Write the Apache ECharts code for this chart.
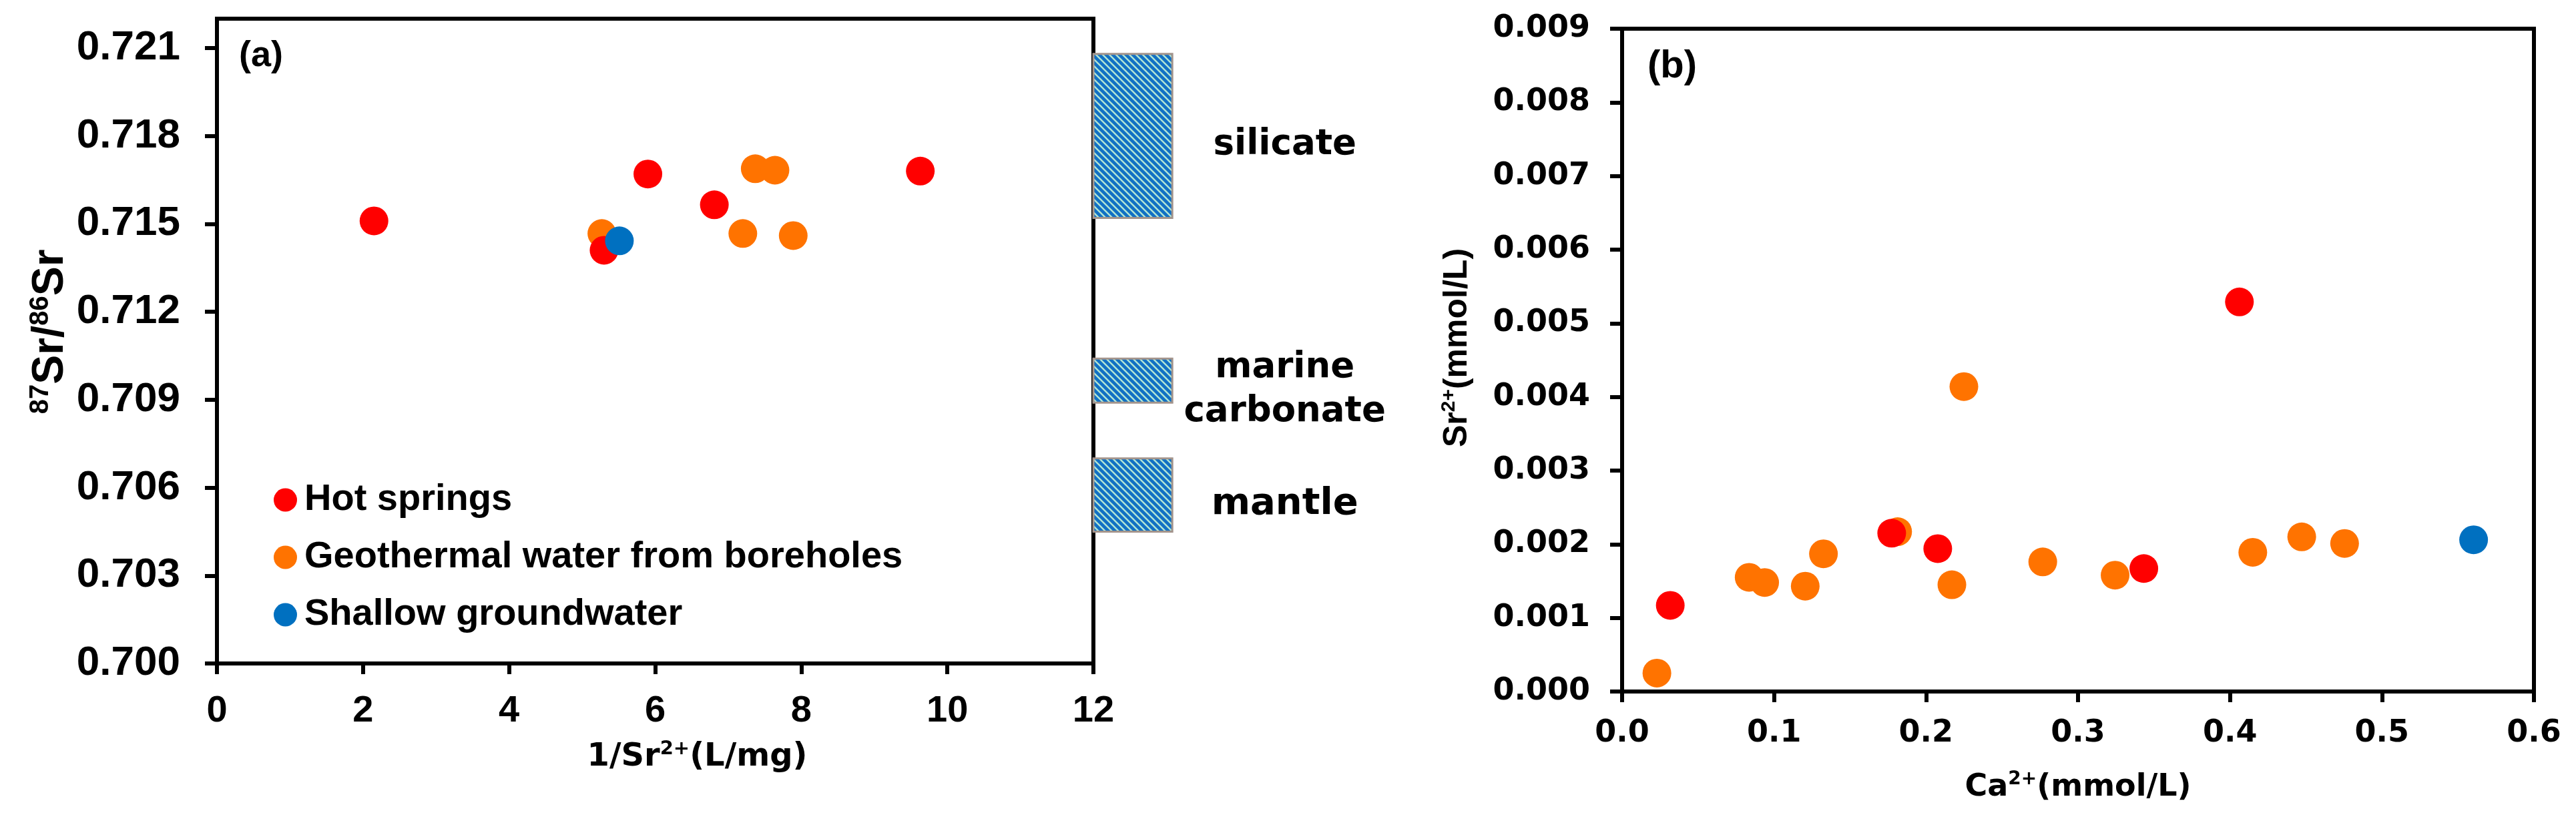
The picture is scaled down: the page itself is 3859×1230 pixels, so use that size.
<!DOCTYPE html>
<html lang="en">
<head>
<meta charset="UTF-8">
<title>Sr isotope plots</title>
<script src="https://cdn.jsdelivr.net/npm/echarts@6/dist/echarts.min.js"></script>
<style>
  html, body { margin: 0; padding: 0; background: #fff; }
  #main { width: 3859px; height: 1230px; }
</style>
</head>
<body>
<div id="main"></div>
<script>
// ---- panel (a): 1/Sr2+ (L/mg) vs 87Sr/86Sr ----
var hotA = [[2.15, 0.7151], [5.90, 0.7167], [5.30, 0.7141], [6.81, 0.71565], [9.63, 0.7168]];
var geoA = [[5.27, 0.71467], [7.37, 0.71688], [7.64, 0.71683], [7.20, 0.71467], [7.89, 0.7146]];
var shallowA = [[5.51, 0.71442]];
var yTicksA = [0.700, 0.703, 0.706, 0.709, 0.712, 0.715, 0.718, 0.721];

// end-member ranges drawn to the right of panel (a)
var sourceNames = ['silicate', 'marine\ncarbonate', 'mantle'];
var sourceLow = [0.7152, 0.7089, 0.7045];
var sourceHigh = [0.7208, 0.7104, 0.7070];

// ---- panel (b): Ca2+ vs Sr2+ (mmol/L) ----
var hotB = [[0.0317, 0.00117], [0.1774, 0.00215], [0.2077, 0.00194], [0.3433, 0.00167], [0.4062, 0.00529]];
var geoB = [[0.0229, 0.00025], [0.0836, 0.00155], [0.0938, 0.00148], [0.1205, 0.00143], [0.1325, 0.00187],
            [0.1813, 0.00217], [0.2170, 0.00145], [0.2249, 0.00414], [0.2768, 0.00176], [0.3244, 0.00158],
            [0.4150, 0.00189], [0.4472, 0.00210], [0.4754, 0.00201]];
var shallowB = [[0.5603, 0.00206]];

var names = ['Hot springs', 'Geothermal water from boreholes', 'Shallow groundwater'];
var colors = { hot: '#ff0000', geo: '#ff7300', shallow: '#0070c0' };

// hatch fill for the end-member boxes
function makeHatch() {
    var c = document.createElement('canvas');
    c.width = 10; c.height = 10;
    var g = c.getContext('2d');
    g.fillStyle = '#1170c4';
    g.fillRect(0, 0, 10, 10);
    g.strokeStyle = '#b2e6d4';
    g.lineWidth = 2.4;
    g.beginPath();
    g.moveTo(-2, -2); g.lineTo(12, 12);
    g.moveTo(-2, 8); g.lineTo(2, 12);
    g.moveTo(8, -2); g.lineTo(12, 2);
    g.stroke();
    return c;
}
var hatch = makeHatch();

var arialB = { fontFamily: 'Liberation Sans', fontWeight: 'bold', color: '#000' };
var dejaB = { fontFamily: 'DejaVu Sans', fontWeight: 'bold', color: '#000' };

function ext(a, b) { return Object.assign({}, a, b); }

function axisLine() { return { show: true, onZero: false, lineStyle: { color: '#000', width: 6 } }; }
function axisTick(len) { return { show: true, inside: false, length: len, lineStyle: { color: '#000', width: 6 } }; }

function scatter(name, data, color, idx) {
    return {
        type: 'scatter', name: name, data: data,
        xAxisIndex: idx, yAxisIndex: idx,
        symbol: 'circle', symbolSize: 43,
        itemStyle: { color: color, opacity: 1 },
        emphasis: { disabled: true }
    };
}

var myChart = echarts.init(document.getElementById('main'));

var option = {
    animation: false,
    backgroundColor: '#fff',
    title: [
        { text: '(a)', left: 353, top: 52, textStyle: ext(arialB, { fontSize: 54 }) },
        { text: '(b)', left: 2463, top: 66, textStyle: ext(arialB, { fontSize: 58 }) }
    ],
    legend: {
        data: names,
        orient: 'vertical',
        left: 405, top: 716,
        itemWidth: 35, itemHeight: 35, itemGap: 30,
        icon: 'circle',
        textStyle: ext(arialB, { fontSize: 56, lineHeight: 56, padding: [0, 0, 0, 6] })
    },
    grid: [
        { left: 325, top: 28, width: 1313, height: 966, show: true, borderColor: '#000', borderWidth: 6,
          backgroundColor: 'transparent', containLabel: false, outerBoundsMode: 'none' },
        { left: 2430, top: 43, width: 1366, height: 993, show: true, borderColor: '#000', borderWidth: 6,
          backgroundColor: 'transparent', containLabel: false, outerBoundsMode: 'none' }
    ],
    xAxis: [
        {
            gridIndex: 0, type: 'value', min: 0, max: 12, interval: 2,
            axisLine: axisLine(), axisTick: axisTick(16), splitLine: { show: false },
            axisLabel: ext(arialB, { fontSize: 56, margin: 44 }),
            name: '{b|1/Sr}{s|2+}{b|(L/mg)}',
            nameLocation: 'middle', nameGap: 114, nameMoveOverlap: false,
            nameTextStyle: {
                padding: [0, 0, 0, 126],
                rich: {
                    b: ext(dejaB, { fontSize: 48, lineHeight: 54 }),
                    s: ext(dejaB, { fontSize: 29, lineHeight: 30, verticalAlign: 'top' })
                }
            }
        },
        {
            gridIndex: 1, type: 'value', min: 0, max: 0.6, interval: 0.1,
            axisLine: axisLine(), axisTick: axisTick(16), splitLine: { show: false },
            axisLabel: ext(dejaB, { fontSize: 46, margin: 40, formatter: function (v) { return v.toFixed(1); } }),
            name: '{b|Ca}{s|2+}{b|(mmol/L)}',
            nameLocation: 'middle', nameGap: 118, nameMoveOverlap: false,
            nameTextStyle: {
                rich: {
                    b: ext(dejaB, { fontSize: 46, lineHeight: 52 }),
                    s: ext(dejaB, { fontSize: 28, lineHeight: 28, verticalAlign: 'top' })
                }
            }
        }
    ],
    yAxis: [
        {
            gridIndex: 0, type: 'value', min: 0.700, max: 0.722, interval: 0.003,
            axisLine: axisLine(),
            axisTick: ext(axisTick(18), { customValues: yTicksA }),
            splitLine: { show: false },
            axisLabel: ext(arialB, {
                fontSize: 62, margin: 55, customValues: yTicksA,
                formatter: function (v) { return v.toFixed(3); }
            }),
            name: '{s|87}{b|Sr/}{s|86}{b|Sr}',
            nameLocation: 'middle', nameRotate: 90, nameGap: 214, nameMoveOverlap: false,
            nameTextStyle: {
                padding: [0, 0, 0, 28],
                rich: {
                    b: ext(arialB, { fontSize: 66, lineHeight: 70 }),
                    s: ext(arialB, { fontSize: 40, lineHeight: 40, verticalAlign: 'top' })
                }
            }
        },
        {
            gridIndex: 1, type: 'value', min: 0, max: 0.009, interval: 0.001,
            axisLine: axisLine(), axisTick: axisTick(18), splitLine: { show: false },
            axisLabel: ext(dejaB, { fontSize: 46, margin: 48, formatter: function (v) { return v.toFixed(3); } }),
            name: '{b|Sr}{s|2+}{b|(mmol/L)}',
            nameLocation: 'middle', nameRotate: 90, nameGap: 220, nameMoveOverlap: false,
            nameTextStyle: {
                padding: [0, 0, 0, 37],
                rich: {
                    b: ext(arialB, { fontSize: 50, lineHeight: 54 }),
                    s: ext(arialB, { fontSize: 30, lineHeight: 30, verticalAlign: 'top' })
                }
            }
        }
    ],
    series: [
        scatter(names[1], geoA, colors.geo, 0),
        scatter(names[0], hotA, colors.hot, 0),
        scatter(names[2], shallowA, colors.shallow, 0),
        scatter(names[1], geoB, colors.geo, 1),
        scatter(names[0], hotB, colors.hot, 1),
        scatter(names[2], shallowB, colors.shallow, 1),
        {
            type: 'custom',
            name: 'end-members',
            xAxisIndex: 0, yAxisIndex: 0,
            clip: false,
            silent: true,
            data: sourceNames.map(function (n, i) { return [i, sourceLow[i], sourceHigh[i]]; }),
            renderItem: function (params, api) {
                var i = params.dataIndex;
                var lo = api.value(1), hi = api.value(2);
                var p0 = api.coord([12, hi]);
                var p1 = api.coord([13.08, lo]);
                var mid = api.coord([14.62, (lo + hi) / 2]);
                return {
                    type: 'group',
                    children: [
                        {
                            type: 'rect',
                            shape: { x: p0[0], y: p0[1], width: p1[0] - p0[0], height: p1[1] - p0[1] },
                            style: { fill: { image: hatch, repeat: 'repeat' }, stroke: '#a3948c', lineWidth: 3 }
                        },
                        {
                            type: 'text',
                            style: {
                                text: sourceNames[i],
                                x: mid[0], y: mid[1] + 14,
                                align: 'center', verticalAlign: 'middle',
                                fontFamily: 'DejaVu Sans', fontWeight: 'bold',
                                fontSize: i === 2 ? 56 : 53, lineHeight: 66,
                                fill: '#000'
                            }
                        }
                    ]
                };
            }
        }
    ]
};

myChart.setOption(option);
</script>
</body>
</html>
